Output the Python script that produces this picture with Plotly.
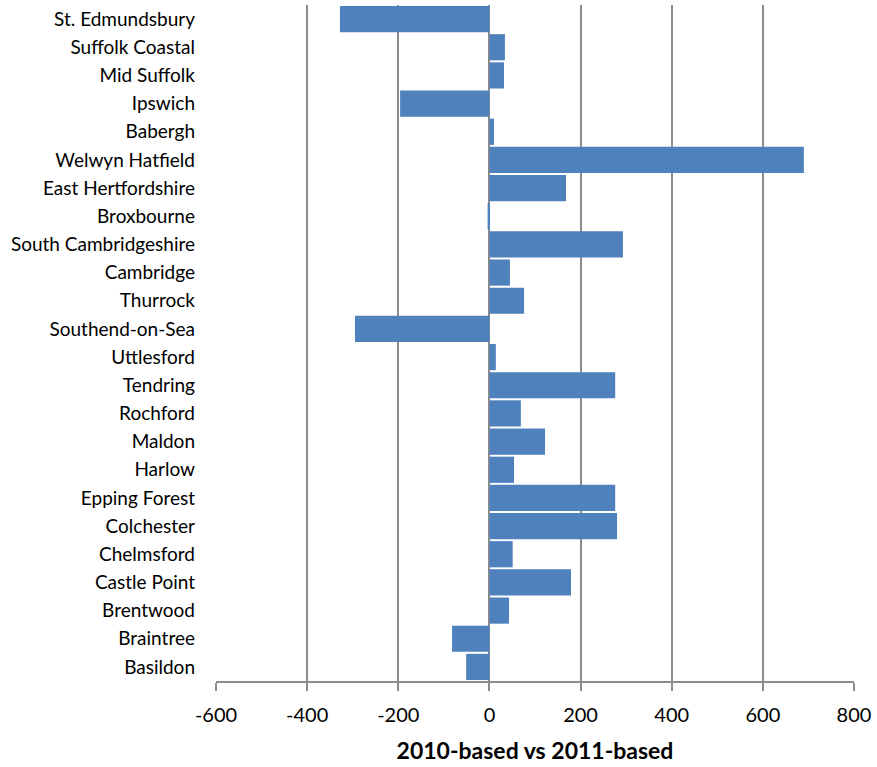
import plotly.graph_objects as go

# Local authorities, listed bottom to top
districts = [
    "Basildon", "Braintree", "Brentwood", "Castle Point", "Chelmsford",
    "Colchester", "Epping Forest", "Harlow", "Maldon", "Rochford",
    "Tendring", "Uttlesford", "Southend-on-Sea", "Thurrock", "Cambridge",
    "South Cambridgeshire", "Broxbourne", "East Hertfordshire",
    "Welwyn Hatfield", "Babergh", "Ipswich", "Mid Suffolk",
    "Suffolk Coastal", "St. Edmundsbury",
]
difference = [
    -51, -82, 43, 179, 51,
    280, 276, 54, 122, 69,
    276, 14, -295, 76, 45,
    293, -4, 168,
    690, 10, -196, 32,
    34, -328,
]
x_ticks = [-600, -400, -200, 0, 200, 400, 600, 800]

FONT = "Lato"
GRID = "#8c8c8c"

fig = go.Figure(
    go.Bar(
        x=difference,
        y=districts,
        orientation="h",
        marker=dict(color="#4f81bd", line=dict(width=0)),
    )
)

fig.update_layout(
    width=877,
    height=767,
    margin=dict(l=216, r=23, t=5, b=86),
    plot_bgcolor="white",
    paper_bgcolor="white",
    bargap=0.07,
    showlegend=False,
    font=dict(family=FONT, color="black"),
)

fig.update_xaxes(
    range=[-600, 800],
    tickvals=x_ticks,
    ticktext=[str(v) for v in x_ticks],
    showgrid=True,
    gridcolor=GRID,
    gridwidth=1.5,
    zeroline=False,
    showline=True,
    linecolor=GRID,
    linewidth=1.5,
    ticks="outside",
    ticklen=8,
    tickwidth=1.5,
    tickcolor=GRID,
    ticklabelstandoff=7,
    tickfont=dict(size=20, family=FONT),
    title=dict(
        text="<b>2010-based vs 2011-based</b>",
        font=dict(size=23, family=FONT),
        standoff=18,
    ),
)

fig.update_yaxes(
    categoryorder="array",
    categoryarray=districts,
    showgrid=False,
    showline=False,
    ticks="",
    tickfont=dict(size=19, family=FONT),
    ticklabelstandoff=20,
    range=[-0.5, len(districts) - 0.5],
)

fig.write_html("out.html")
